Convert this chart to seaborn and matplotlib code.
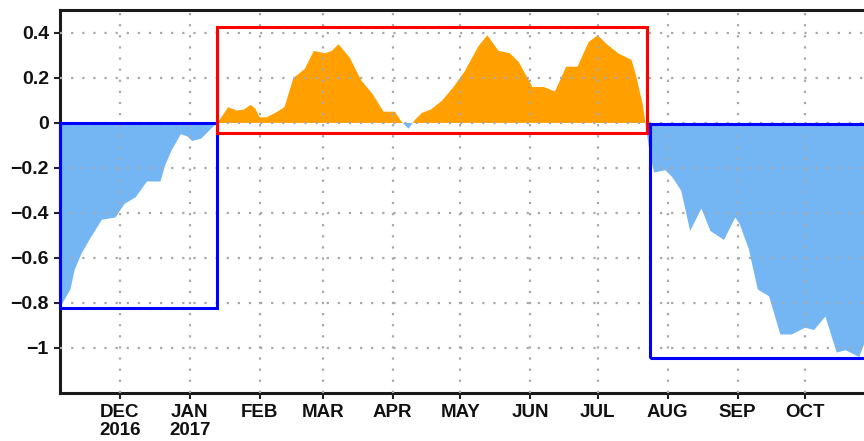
import numpy as np
import pandas as pd
import matplotlib
matplotlib.use("Agg")
import matplotlib.pyplot as plt
import matplotlib.dates as mdates
from matplotlib.patches import Rectangle
import seaborn as sns

# values (date, index value)
dates = [
    "2016-11-05", "2016-11-09", "2016-11-11", "2016-11-14", "2016-11-18", "2016-11-23",
    "2016-11-29", "2016-12-03", "2016-12-08", "2016-12-13", "2016-12-19", "2016-12-21",
    "2016-12-24", "2016-12-28", "2016-12-31", "2017-01-02", "2017-01-06", "2017-01-09",
    "2017-01-12", "2017-01-14", "2017-01-18", "2017-01-22", "2017-01-25", "2017-01-28",
    "2017-01-30", "2017-02-01", "2017-02-04", "2017-02-08", "2017-02-12", "2017-02-16",
    "2017-02-21", "2017-02-25", "2017-03-02", "2017-03-05", "2017-03-08", "2017-03-13",
    "2017-03-18", "2017-03-23", "2017-03-28", "2017-04-02", "2017-04-05", "2017-04-08",
    "2017-04-11", "2017-04-14", "2017-04-18", "2017-04-23", "2017-04-28", "2017-05-03",
    "2017-05-09", "2017-05-13", "2017-05-18", "2017-05-23", "2017-05-27", "2017-06-02",
    "2017-06-07", "2017-06-12", "2017-06-17", "2017-06-22", "2017-06-27", "2017-07-01",
    "2017-07-05", "2017-07-10", "2017-07-16", "2017-07-18", "2017-07-21", "2017-07-22",
    "2017-07-24", "2017-07-26", "2017-07-31", "2017-08-03", "2017-08-07", "2017-08-11",
    "2017-08-16", "2017-08-20", "2017-08-26", "2017-08-31", "2017-09-02", "2017-09-06",
    "2017-09-10", "2017-09-15", "2017-09-20", "2017-09-25", "2017-10-01", "2017-10-05",
    "2017-10-10", "2017-10-15", "2017-10-19", "2017-10-25", "2017-10-28",
]
values = [
    -0.81, -0.74, -0.65, -0.58, -0.51, -0.43,
    -0.42, -0.36, -0.33, -0.26, -0.26, -0.19,
    -0.12, -0.05, -0.06, -0.08, -0.07, -0.04,
    -0.01, 0.01, 0.07, 0.055, 0.06, 0.08,
    0.065, 0.025, 0.025, 0.045, 0.07, 0.20,
    0.24, 0.32, 0.31, 0.32, 0.35, 0.29,
    0.19, 0.13, 0.05, 0.05, 0.005, -0.025,
    0.015, 0.045, 0.06, 0.10, 0.16, 0.23,
    0.34, 0.39, 0.32, 0.31, 0.27, 0.16,
    0.16, 0.14, 0.25, 0.25, 0.36, 0.39,
    0.35, 0.31, 0.28, 0.21, 0.08, 0.01,
    -0.13, -0.22, -0.21, -0.24, -0.30, -0.48,
    -0.38, -0.48, -0.52, -0.42, -0.45, -0.56,
    -0.74, -0.77, -0.94, -0.94, -0.91, -0.92,
    -0.86, -1.02, -1.01, -1.04, -0.96,
]

month_ticks = ["2016-12-01", "2017-01-01", "2017-02-01", "2017-03-01", "2017-04-01",
               "2017-05-01", "2017-06-01", "2017-07-01", "2017-08-01", "2017-09-01",
               "2017-10-01"]
month_labels = ["DEC\n2016", "JAN\n2017", "FEB", "MAR", "APR", "MAY", "JUN", "JUL",
                "AUG", "SEP", "OCT"]
y_ticks = [-1, -0.8, -0.6, -0.4, -0.2, 0, 0.2, 0.4]
y_labels = ["\u22121", "\u22120.8", "\u22120.6", "\u22120.4", "\u22120.2", "0", "0.2", "0.4"]

# highlight boxes: (start, end, low, high, colour)
boxes = [
    ("2016-11-04 10:00", "2017-01-13", -0.824, 0.0, "#0000ff"),
    ("2017-01-13", "2017-07-22 20:00", -0.046, 0.425, "#ff0000"),
    ("2017-07-24 05:00", "2017-11-05", -1.046, -0.004, "#0000ff"),
]

sns.set_style("ticks")
plt.rcParams["font.family"] = ["Liberation Sans", "DejaVu Sans"]

df = pd.DataFrame({"date": pd.to_datetime(dates), "value": values})

fig = plt.figure(figsize=(8.64, 4.41), dpi=100)
ax = fig.add_axes([60 / 864, 48 / 441, 815 / 864, 383 / 441])

x = mdates.date2num(df["date"])
y = df["value"].to_numpy()
ax.fill_between(x, 0, y, where=y >= 0, interpolate=True, color="#ffa000", lw=0, zorder=1)
ax.fill_between(x, 0, y, where=y <= 0, interpolate=True, color="#74b5f4", lw=0, zorder=1)

for start, end, lo, hi, col in boxes:
    s, e = mdates.date2num(pd.Timestamp(start)), mdates.date2num(pd.Timestamp(end))
    ax.add_patch(Rectangle((s, lo), e - s, hi - lo, fill=False, edgecolor=col,
                           lw=2.2, zorder=4, clip_on=False))

ax.set_xlim(mdates.date2num(pd.Timestamp("2016-11-04 10:00")),
            mdates.date2num(pd.Timestamp("2017-11-01")))
ax.set_ylim(-1.2, 0.502)
ax.set_xticks(mdates.date2num(pd.to_datetime(month_ticks)))
ax.set_xticklabels(month_labels, fontsize=13.5, fontweight="bold", linespacing=1.05)
ax.set_yticks(y_ticks)
ax.set_yticklabels(y_labels, fontsize=14, fontweight="bold")

ax.set_axisbelow(False)
ax.grid(True, color="#a8a8a8", linestyle=(0, (1, 4)), linewidth=1.6)
ax.tick_params(axis="both", direction="out", length=4, width=1.5, color="#222222",
               labelcolor="#111111")
ax.tick_params(axis="x", pad=4)
ax.tick_params(axis="y", pad=4)
for side in ["left", "bottom", "top"]:
    ax.spines[side].set_linewidth(2.2)
    ax.spines[side].set_color("#1a1a1a")
ax.spines["right"].set_visible(False)

fig.savefig("out.png", dpi=100)
